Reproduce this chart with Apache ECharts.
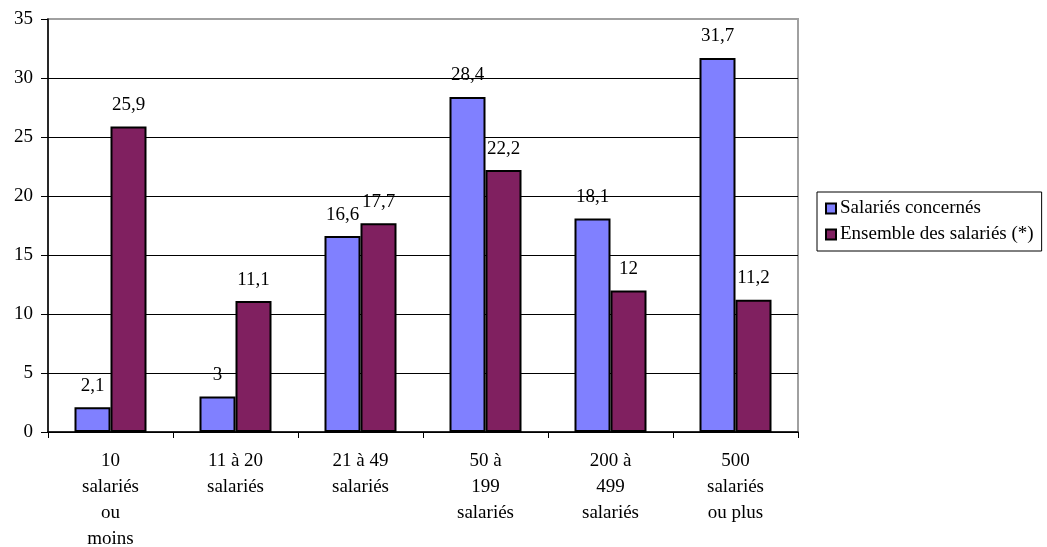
<!DOCTYPE html>
<html>
<head>
<meta charset="utf-8">
<script src="https://cdn.jsdelivr.net/npm/echarts@6/dist/echarts.min.js"></script>
<style>
  html, body { margin: 0; padding: 0; background: #fff; }
  #chart { width: 1047px; height: 547px; }
</style>
</head>
<body>
<div id="chart"></div>
<script>
// Company size brackets (multi-line labels)
const categories = [
  "10\nsalariés\nou\nmoins",
  "11 à 20\nsalariés",
  "21 à 49\nsalariés",
  "50 à\n199\nsalariés",
  "200 à\n499\nsalariés",
  "500\nsalariés\nou plus"
];
const salariesConcernes = [2.1, 3, 16.6, 28.4, 18.1, 31.7];
const ensembleSalaries = [25.9, 11.1, 17.7, 22.2, 12, 11.2];
const seriesNames = ["Salariés concernés", "Ensemble des salariés (*)"];

const FONT = "'Liberation Serif', 'Times New Roman', serif";
const fmt = v => String(v).replace('.', ',');

const chart = echarts.init(document.getElementById('chart'), null, { renderer: 'canvas' });

const labelStyle = {
  show: true,
  position: 'top',
  distance: 12,
  fontFamily: FONT,
  fontSize: 19,
  color: '#000',
  formatter: p => fmt(p.value)
};

chart.setOption({
  animation: false,
  textStyle: { fontFamily: FONT },
  grid: {
    left: 48, top: 19, right: 249, bottom: 115,
    outerBoundsMode: 'none',
    containLabel: false,
    show: true,
    borderColor: '#a0a0a0',
    borderWidth: 2,
    backgroundColor: '#fff'
  },
  legend: {
    orient: 'vertical',
    left: 817, top: 192,
    padding: [7, 8, 7, 8],
    itemGap: 7,
    itemWidth: 10, itemHeight: 10,
    icon: 'rect',
    borderColor: '#000',
    borderWidth: 1,
    textStyle: { fontFamily: FONT, fontSize: 19, color: '#000', padding: [0, 0, 0, -1] },
    data: seriesNames
  },
  xAxis: {
    type: 'category',
    data: categories,
    axisLine: { lineStyle: { color: '#000', width: 1.5 } },
    axisTick: { show: true, length: 6, lineStyle: { color: '#000', width: 1 } },
    axisLabel: {
      fontFamily: FONT, fontSize: 19, color: '#000',
      lineHeight: 26, margin: 16, interval: 0
    }
  },
  yAxis: {
    type: 'value',
    min: 0, max: 35, interval: 5,
    axisLine: { show: true, lineStyle: { color: '#000', width: 1.5 } },
    axisTick: { show: true, length: 7, lineStyle: { color: '#000' } },
    axisLabel: { fontFamily: FONT, fontSize: 19, color: '#000', margin: 15 },
    splitLine: { show: true, showMaxLine: false, lineStyle: { color: '#000', width: 1 } }
  },
  series: [
    {
      name: seriesNames[0],
      type: 'bar',
      data: salariesConcernes,
      barWidth: 36,
      barGap: '0%',
      itemStyle: { color: '#8080ff', borderColor: '#000', borderWidth: 2 },
      label: labelStyle
    },
    {
      name: seriesNames[1],
      type: 'bar',
      data: ensembleSalaries,
      barWidth: 36,
      barGap: '0%',
      itemStyle: { color: '#802060', borderColor: '#000', borderWidth: 2 },
      label: labelStyle
    }
  ]
});
</script>
</body>
</html>
